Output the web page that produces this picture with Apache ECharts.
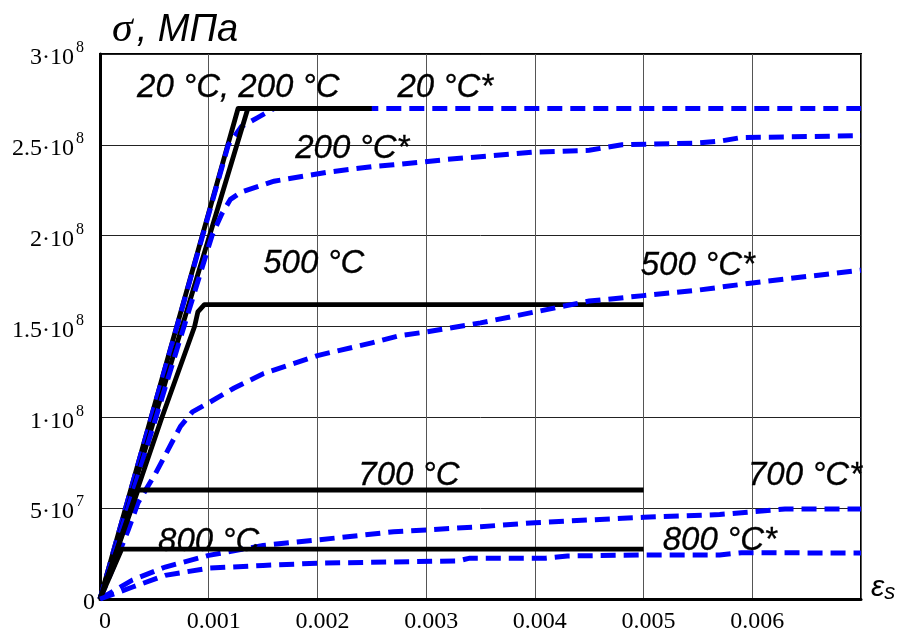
<!DOCTYPE html>
<html><head><meta charset="utf-8">
<script src="https://cdn.jsdelivr.net/npm/echarts@6/dist/echarts.min.js"></script>
<style>html,body{margin:0;padding:0;background:#fff}#c{width:900px;height:630px}</style>
</head><body><div id="c"></div>
<script>
// Tick labels
const xTickLabels = ['0', '0.001', '0.002', '0.003', '0.004', '0.005', '0.006', ''];
const yTickMantissa = ['0', '5', '1', '1.5', '2', '2.5', '3'];
const yTickExponent = ['', '7', '8', '8', '8', '8', '8'];

// Series values [strain, stress Pa]
const s20 = [[0, 0], [0.00127, 2.7e8], [0.0025, 2.7e8]];
const s20star = [[0, 0], [0.00118, 2.5e8], [0.0013, 2.6e8], [0.00145, 2.65e8], [0.0016, 2.7e8], [0.007, 2.7e8]];
const s200 = [[0, 0], [0.00136, 2.7e8], [0.0025, 2.7e8]];
const s200star = [[0, 0], [0.00103, 2.0e8], [0.00112, 2.12e8], [0.0012, 2.2e8], [0.0013, 2.24e8], [0.0016, 2.3e8], [0.0021, 2.35e8], [0.0025, 2.38e8], [0.0027, 2.39e8], [0.0032, 2.42e8], [0.004, 2.46e8], [0.0045, 2.47e8], [0.0048, 2.5e8], [0.0055, 2.51e8], [0.0057, 2.52e8], [0.0059, 2.54e8], [0.007, 2.55e8]];
const s500 = [[0, 0], [0.00057, 1.0e8], [0.00087, 1.5e8], [0.0009, 1.58e8], [0.00096, 1.62e8], [0.005, 1.62e8]];
const s500star = [[0, 0], [0.00014, 2.0e7], [0.00026, 3.8e7], [0.00035, 5.3e7], [0.00051, 6.9e7], [0.00066, 8.6e7], [0.00074, 9.5e7], [0.00085, 1.03e8], [0.001, 1.08e8], [0.00123, 1.16e8], [0.0015, 1.24e8], [0.002, 1.34e8], [0.0025, 1.41e8], [0.00276, 1.45e8], [0.003, 1.47e8], [0.0035, 1.52e8], [0.004, 1.58e8], [0.0045, 1.64e8], [0.005, 1.67e8], [0.0055, 1.7e8], [0.006, 1.74e8], [0.007, 1.81e8]];
const s700 = [[0, 0], [0.00035, 6.0e7], [0.005, 6.0e7]];
const s700star = [[0, 0], [0.0003, 1.05e7], [0.0006, 1.76e7], [0.001, 2.4e7], [0.0015, 2.95e7], [0.002, 3.25e7], [0.0027, 3.7e7], [0.003, 3.8e7], [0.0035, 3.98e7], [0.004, 4.2e7], [0.0045, 4.35e7], [0.005, 4.5e7], [0.0057, 4.65e7], [0.006, 4.8e7], [0.0063, 4.95e7], [0.007, 4.95e7]];
const s800 = [[0, 0], [0.0002, 2.75e7], [0.005, 2.75e7]];
const s800star = [[0, 0], [0.0003, 6.6e6], [0.0006, 1.3e7], [0.001, 1.7e7], [0.0015, 1.85e7], [0.002, 1.97e7], [0.0033, 2.1e7], [0.0034, 2.25e7], [0.0041, 2.25e7], [0.0043, 2.37e7], [0.005, 2.42e7], [0.0057, 2.42e7], [0.0059, 2.55e7], [0.007, 2.53e7]];

// Curve labels and their anchors (left edge, text middle) in data units
const annotationTexts = ['20 °C, 200 °C', '20 °C*', '200 °C*', '500 °C', '500 °C*', '700 °C', '700 °C*', '800 °C', '800 °C*'];
const annotationAnchors = [[0.000341, 2.813e8], [0.002736, 2.813e8], [0.001796, 2.477e8], [0.001501, 1.844e8], [0.004974, 1.833e8], [0.002376, 6.77e7], [0.00596, 6.77e7], [0.000534, 3.14e7], [0.005176, 3.19e7]];

const chart = echarts.init(document.getElementById('c'), null, {renderer: 'canvas'});

const black = d => ({type: 'line', data: d, symbol: 'none', silent: true, animation: false,
  lineStyle: {color: '#000', width: 4.8, join: 'round'}});
const blue = d => ({type: 'line', data: d, symbol: 'none', silent: true, animation: false,
  lineStyle: {color: '#0000ff', width: 5, type: [15, 8], cap: 'butt', join: 'miter'}});

chart.setOption({
  animation: false,
  backgroundColor: '#fff',
  grid: {left: 100, right: 39, top: 54, bottom: 31, containLabel: false, outerBoundsMode: 'none',
    show: true, borderColor: '#000', borderWidth: 2},
  xAxis: {
    type: 'value', min: 0, max: 0.007, interval: 0.001,
    axisLine: {show: true, lineStyle: {color: '#000', width: 3}},
    axisTick: {show: false},
    splitLine: {show: true, lineStyle: {color: '#555', width: 1}},
    axisLabel: {
      margin: 11, color: '#000', fontFamily: 'Liberation Serif', fontSize: 24,
      padding: [0, 0, 0, 10],
      formatter: (v, i) => xTickLabels[i] ?? ''
    },
    name: '{e|ε}{s|s}', nameLocation: 'end', nameGap: 10,
    nameTextStyle: {
      padding: [0, 0, 22, 0],
      rich: {
        e: {fontFamily: 'Liberation Sans', fontStyle: 'italic', fontSize: 30, color: '#000'},
        s: {fontFamily: 'Liberation Sans', fontStyle: 'italic', fontSize: 22, color: '#000', padding: [10, 0, 0, 0]}
      }
    }
  },
  yAxis: {
    type: 'value', min: 0, max: 3e8, interval: 5e7,
    axisLine: {show: true, lineStyle: {color: '#000', width: 3}},
    axisTick: {show: false},
    splitLine: {show: true, lineStyle: {color: '#222', width: 1}},
    axisLabel: {
      margin: 5, padding: [8, 0, 0, 0],
      formatter: (v, i) => i === 0 ? '{m|' + yTickMantissa[0] + '}'
        : '{m|' + yTickMantissa[i] + '·10}{e|' + yTickExponent[i] + '}{sp|}',
      rich: {
        m: {fontFamily: 'Liberation Serif', fontSize: 24, lineHeight: 36, color: '#000'},
        e: {fontFamily: 'Liberation Serif', fontSize: 16, lineHeight: 16, verticalAlign: 'top', color: '#000', padding: [0, 0, 0, 2]},
        sp: {width: 11, fontSize: 16}
      }
    },
    name: '{s|σ}{t|, МПа}', nameLocation: 'end', nameGap: 3,
    nameTextStyle: {
      align: 'left', verticalAlign: 'bottom', padding: [0, 0, 0, 12],
      rich: {
        s: {fontFamily: 'Liberation Serif', fontStyle: 'italic', fontSize: 42, color: '#000', padding: [0, 4, 0, 0]},
        t: {fontFamily: 'Liberation Sans', fontStyle: 'italic', fontSize: 38, color: '#000'}
      }
    }
  },
  series: [
    black(s20), blue(s20star),
    black(s200), blue(s200star),
    black(s500), blue(s500star),
    black(s700), blue(s700star),
    black(s800), blue(s800star),
    {
      type: 'scatter', symbolSize: 0, silent: true, animation: false, z: 10,
      itemStyle: {opacity: 1},
      data: annotationAnchors.map((p, i) => [p[0], p[1], i]),
      label: {
        show: true, position: 'right', distance: 0, color: '#000', opacity: 1,
        fontFamily: 'Liberation Sans', fontStyle: 'italic', fontSize: 33,
        textBorderColor: '#000', textBorderWidth: 0.3,
        formatter: p => annotationTexts[p.value[2]]
      }
    }
  ]
});
</script></body></html>
